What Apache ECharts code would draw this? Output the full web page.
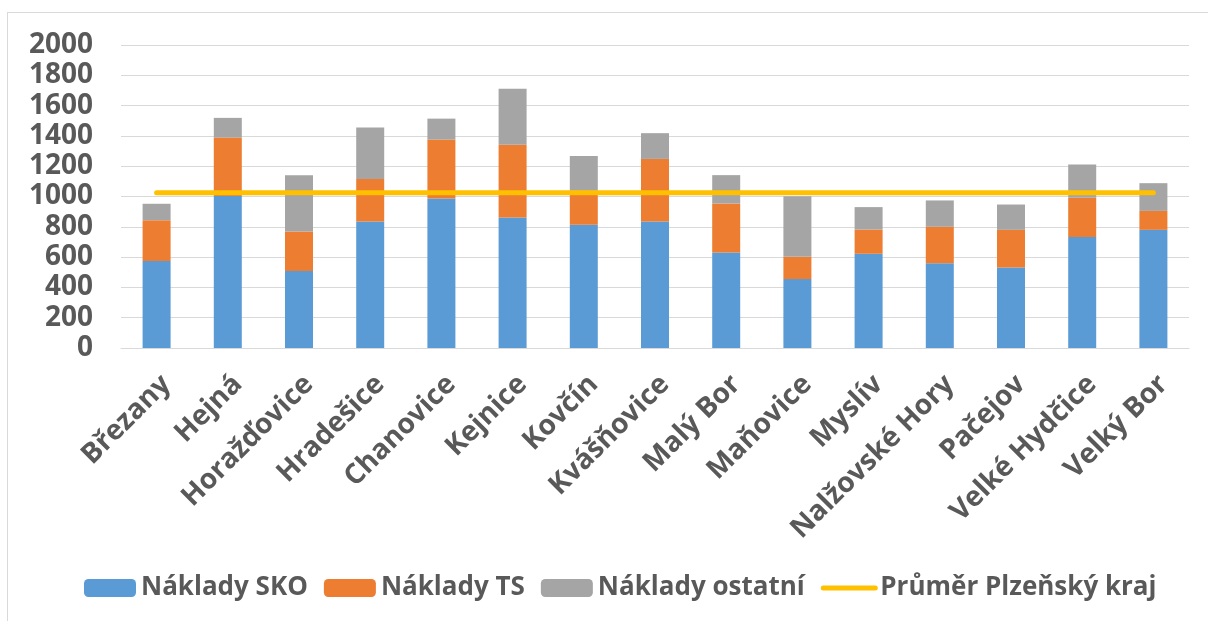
<!DOCTYPE html>
<html>
<head>
<meta charset="utf-8">
<script src="https://cdn.jsdelivr.net/npm/echarts@6/dist/echarts.min.js"></script>
<style>
  html, body { margin: 0; padding: 0; background: #fff; }
  .wrap { position: relative; width: 1208px; height: 621px; overflow: hidden; }
  .frame { position: absolute; left: 7px; top: 12px; width: 1220px; height: 640px; border: 1px solid #d9d9d9; box-sizing: border-box; }
  #chart { position: absolute; left: 0; top: 0; width: 1208px; height: 621px; }
</style>
</head>
<body>
<div class="wrap">
  <div class="frame"></div>
  <div id="chart"></div>
</div>
<script>
// obce
const obce = ['Březany', 'Hejná', 'Horažďovice', 'Hradešice', 'Chanovice', 'Kejnice', 'Kovčín',
  'Kvášňovice', 'Malý Bor', 'Maňovice', 'Myslív', 'Nalžovské Hory', 'Pačejov', 'Velké Hydčice', 'Velký Bor']

// náklady
const nakladySKO = [574, 1004, 508, 835, 987, 862, 813, 835, 631, 455, 622, 560, 532, 732, 780]
const nakladyTS = [270, 385, 261, 281, 389, 479, 227, 413, 323, 147, 160, 240, 248, 259, 125]
const nakladyOstatni = [108, 130, 372, 339, 138, 371, 228, 170, 187, 400, 148, 174, 167, 220, 183]
const prumerKraj = [1025, 1025, 1025, 1025, 1025, 1025, 1025, 1025, 1025, 1025, 1025, 1025, 1025, 1025, 1025]

const textColor = '#595959'
const fontFamily = '"Open Sans", sans-serif'

const chart = echarts.init(document.getElementById('chart'))

const barSeries = (name, data, color) => ({
  name,
  type: 'bar',
  stack: 'naklady',
  barWidth: 28,
  data,
  itemStyle: { color }
})

chart.setOption({
  animation: false,
  textStyle: { fontFamily },
  grid: { left: 121, right: 19, top: 45, bottom: 273, containLabel: false },
  legend: {
    left: 79,
    top: 570,
    itemWidth: 52,
    itemHeight: 18,
    itemGap: 16,
    textStyle: { color: textColor, fontSize: 26, fontWeight: 'bold', fontFamily },
    data: [
      'Náklady SKO',
      'Náklady TS',
      'Náklady ostatní',
      { name: 'Průměr Plzeňský kraj', itemStyle: { opacity: 0 }, lineStyle: { width: 5, cap: 'round', color: '#ffc000' } }
    ]
  },
  xAxis: {
    type: 'category',
    data: obce,
    axisLine: { lineStyle: { color: '#d9d9d9', width: 1 } },
    axisTick: { show: false },
    axisLabel: {
      interval: 0,
      rotate: 45,
      margin: 22,
      verticalAlign: 'top',
      color: textColor,
      fontSize: 28,
      fontWeight: 'bold',
      fontFamily
    }
  },
  yAxis: {
    type: 'value',
    min: 0,
    max: 2000,
    interval: 200,
    axisLine: { show: false },
    axisTick: { show: false },
    splitLine: { lineStyle: { color: '#d9d9d9', width: 1 } },
    axisLabel: {
      margin: 28,
      formatter: (v) => String(v),
      color: textColor,
      fontSize: 28,
      fontWeight: 'bold',
      fontFamily
    }
  },
  series: [
    barSeries('Náklady SKO', nakladySKO, '#5b9bd5'),
    barSeries('Náklady TS', nakladyTS, '#ed7d31'),
    barSeries('Náklady ostatní', nakladyOstatni, '#a5a5a5'),
    {
      name: 'Průměr Plzeňský kraj',
      type: 'line',
      data: prumerKraj,
      symbol: 'none',
      z: 5,
      itemStyle: { color: '#ffc000' },
      lineStyle: { color: '#ffc000', width: 5, cap: 'round' }
    }
  ]
})
</script>
</body>
</html>
